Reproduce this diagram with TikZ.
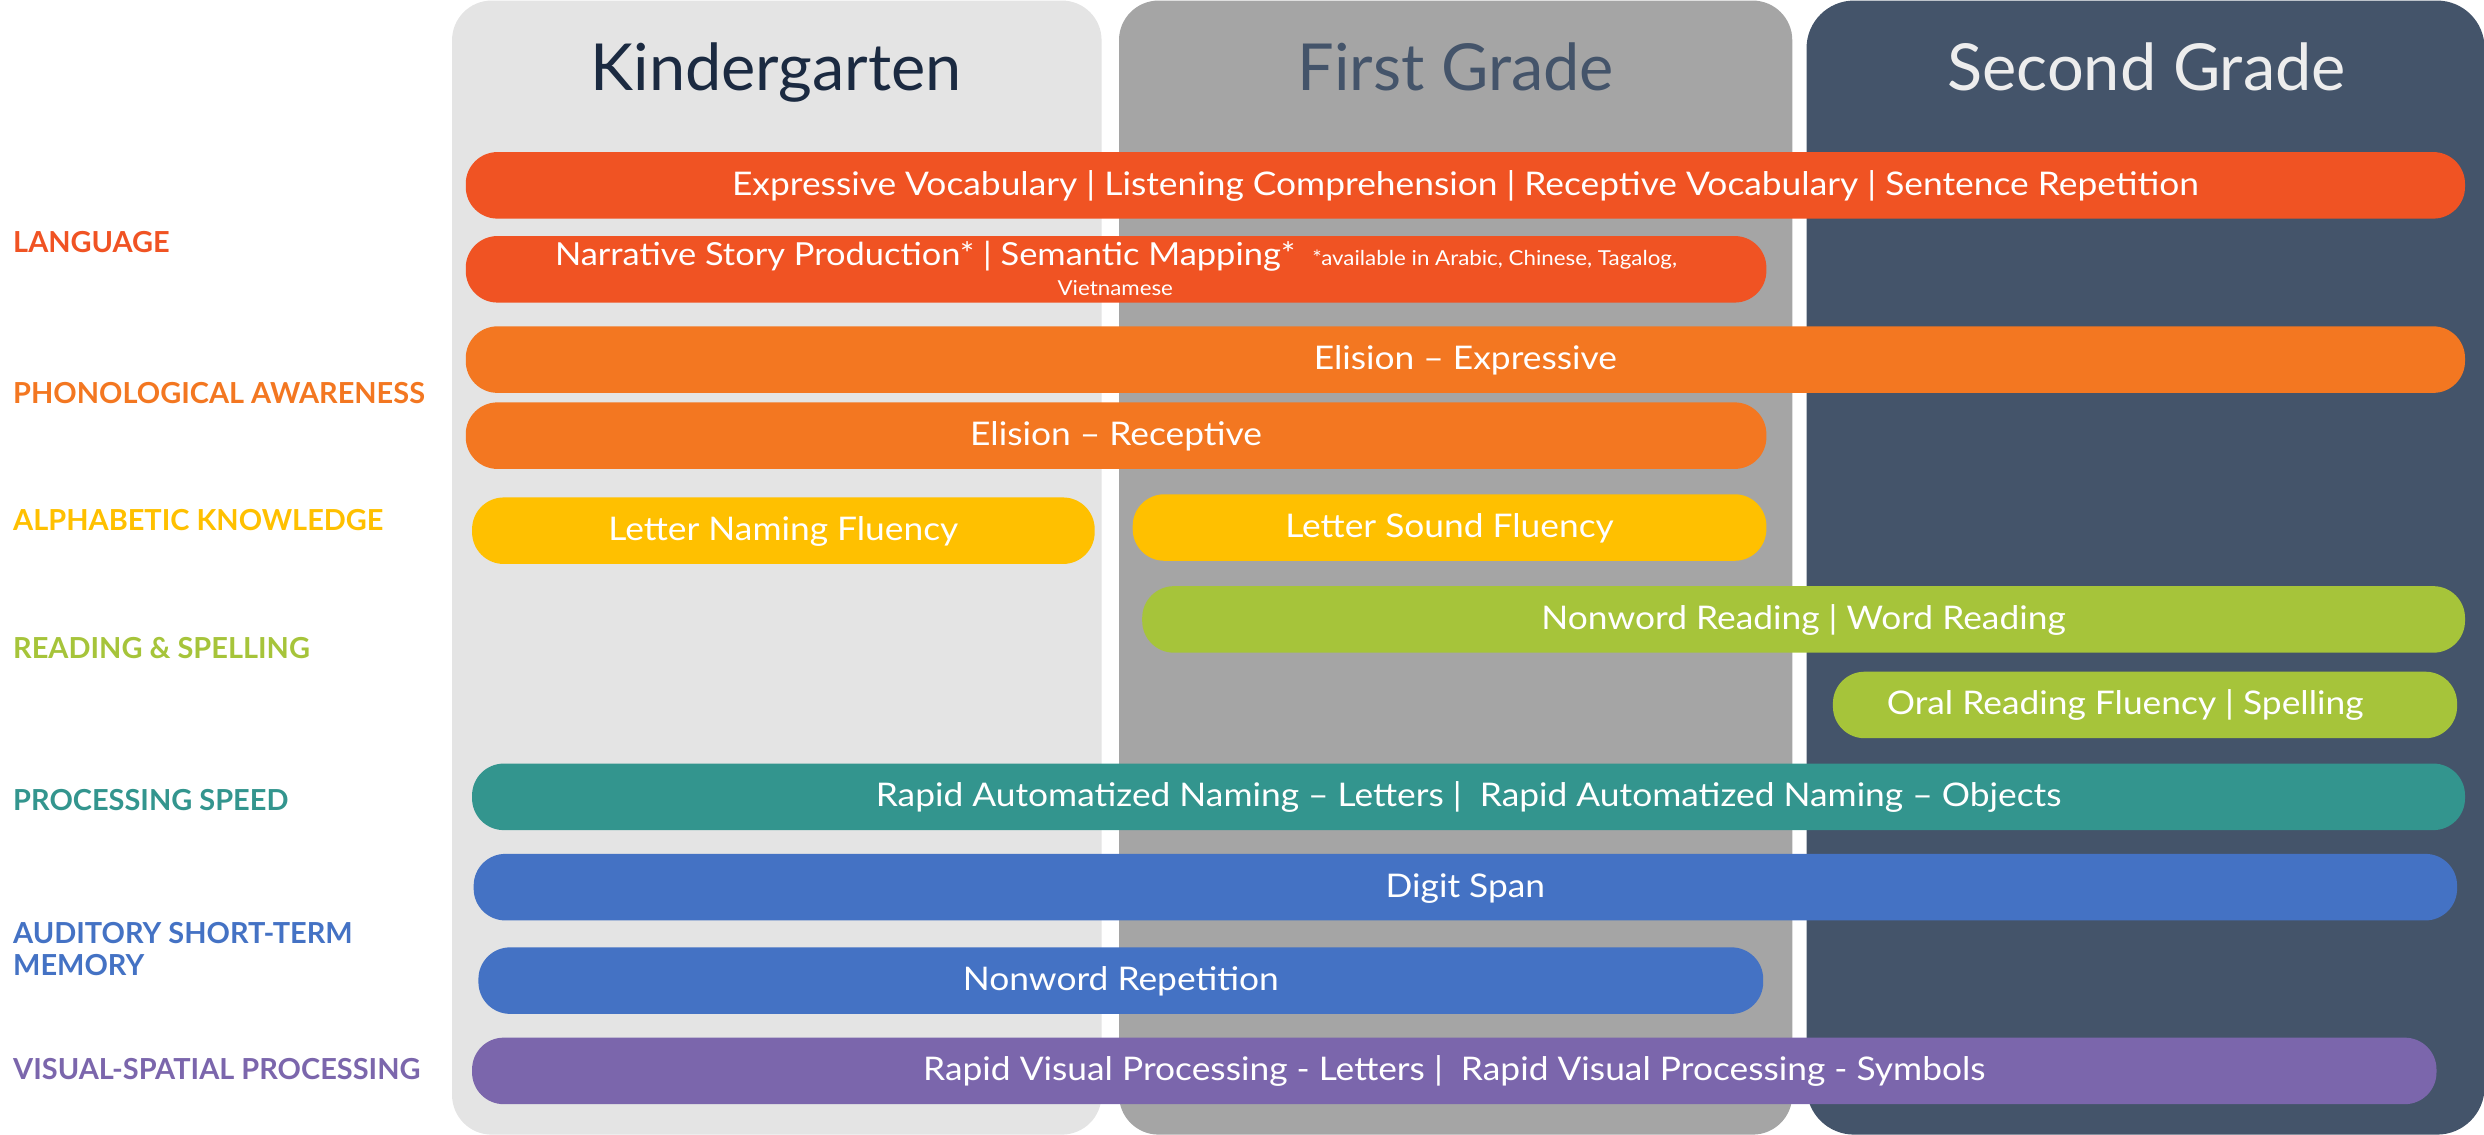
\documentclass[tikz,border=0pt]{standalone}
\usepackage{fontspec}
\setmainfont{Lato}
\newfontfamily\labfont{Lato}
\newfontfamily\barfont[FakeStretch=1.085]{Lato}
\definecolor{kgray}{HTML}{E4E4E4}
\definecolor{fgray}{HTML}{A5A5A5}
\definecolor{sblue}{HTML}{44546A}
\definecolor{knavy}{HTML}{1B2A41}
\definecolor{shead}{HTML}{EDEDED}
\definecolor{clang}{HTML}{F05323}
\definecolor{cphon}{HTML}{F37721}
\definecolor{calph}{HTML}{FFC000}
\definecolor{cread}{HTML}{A6C43A}
\definecolor{cproc}{HTML}{33958E}
\definecolor{caud}{HTML}{4472C4}
\definecolor{cvis}{HTML}{7B66AC}
\tikzset{
  panel/.style={draw=none, inner sep=0pt, anchor=north west, minimum height=14.32cm},
  header/.style={font=\fontsize{23.3}{27}\selectfont, anchor=base, inner sep=0pt},
  barbox/.style={draw=none, inner sep=0pt, rounded corners=0.4cm, minimum height=0.84cm, text=white,
     font=\barfont\fontsize{11.7}{14}\selectfont, text height=0.72em, text depth=0pt},
  bartext/.style={text=white, inner sep=0pt, font=\barfont\fontsize{11.4}{14}\selectfont, text height=0.72em, text depth=0pt},
  notetext/.style={text=white, inner sep=0pt, font=\barfont\fontsize{7.4}{9}\selectfont},
  catlabel/.style={anchor=west, inner sep=0pt, font=\labfont\bfseries\fontsize{10.4}{11.5}\selectfont, align=left}
}
\begin{document}
\begin{tikzpicture}[x=0.02cm,y=-0.02cm]
\useasboundingbox (0,0) rectangle (1568,716);
% grade panels
\node[panel, fill=kgray, rounded corners=0.5cm, minimum width=410*0.02cm] (pk) at (285,0) {};
\node[panel, fill=fgray, rounded corners=0.5cm, minimum width=425*0.02cm] (pf) at (706,0) {};
\node[panel, fill=sblue, rounded corners=0.6cm, minimum width=428*0.02cm] (ps) at (1140,0) {};
% headers
\node[header, text=knavy] (hk) at (490,57) {Kindergarten};
\node[header, text=sblue] (hf) at (919,57) {First Grade};
\node[header, text=shead] (hs) at (1355,57) {Second Grade};
% category labels
\node[catlabel, text=clang] (llang) at (8,153) {LANGUAGE};
\node[catlabel, text=cphon] (lphon) at (8,248) {PHONOLOGICAL AWARENESS};
\node[catlabel, text=calph] (lalph) at (8,328) {ALPHABETIC KNOWLEDGE};
\node[catlabel, text=cread] (lread) at (8,409) {READING \& SPELLING};
\node[catlabel, text=cproc] (lproc) at (8,505) {PROCESSING SPEED};
\node[catlabel, text=caud] (laud) at (8,599) {AUDITORY SHORT-TERM\\MEMORY};
\node[catlabel, text=cvis] (lvis) at (8,675) {VISUAL-SPATIAL PROCESSING};
% bars
\node[barbox, fill=clang, minimum width=1262*0.02cm] (b1) at (925,117) {Expressive Vocabulary | Listening Comprehension | Receptive Vocabulary | Sentence Repetition};
\node[barbox, fill=clang, minimum width=821*0.02cm] (b2) at (704.5,170) {};
\node[bartext, anchor=west] (b2t) at (350,161) {Narrative Story Production* | Semantic Mapping*};
\node[notetext, anchor=west] (b2n) at (828,164) {*available in Arabic, Chinese, Tagalog,};
\node[notetext] (b2v) at (704,182) {Vietnamese};
\node[barbox, fill=cphon, minimum width=1262*0.02cm] (b3) at (925,227) {Elision – Expressive};
\node[barbox, fill=cphon, minimum width=821*0.02cm] (b4) at (704.5,275) {Elision – Receptive};
\node[barbox, fill=calph, minimum width=393*0.02cm] (b5) at (494.5,335) {Letter Naming Fluency};
\node[barbox, fill=calph, minimum width=400*0.02cm] (b6) at (915,333) {Letter Sound Fluency};
\node[barbox, fill=cread, minimum width=835*0.02cm] (b7) at (1138.5,391) {Nonword Reading | Word Reading};
\node[barbox, fill=cread, minimum width=394*0.02cm] (b8) at (1354,445) {Oral Reading Fluency | Spelling\hspace*{0.5cm}};
\node[barbox, fill=cproc, minimum width=1258*0.02cm] (b9) at (927,503) {Rapid Automatized Naming – Letters |\ \ Rapid Automatized Naming – Objects};
\node[barbox, fill=caud, minimum width=1252*0.02cm] (b10) at (925,560) {Digit Span};
\node[barbox, fill=caud, minimum width=811*0.02cm] (b11) at (707.5,619) {Nonword Repetition};
\node[barbox, fill=cvis, minimum width=1240*0.02cm] (b12) at (918,676) {Rapid Visual Processing - Letters |\ \ Rapid Visual Processing - Symbols};
\end{tikzpicture}
\end{document}
